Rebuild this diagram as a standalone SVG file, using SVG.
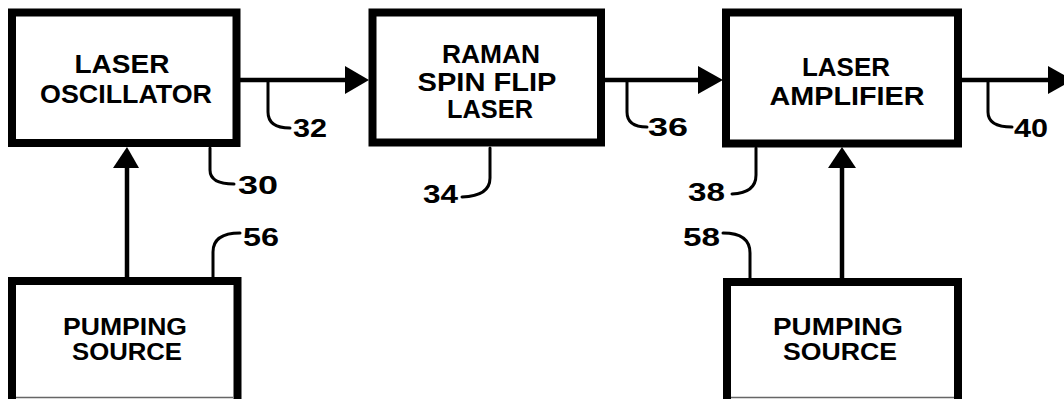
<svg xmlns="http://www.w3.org/2000/svg" width="1064" height="399" viewBox="0 0 1064 399">
<style>
.box{fill:#fff;stroke:#000;stroke-width:8;stroke-linejoin:miter}
.lbl{font-family:"Liberation Sans",Arial,sans-serif;font-weight:bold;font-size:25px;fill:#000;text-anchor:middle}
.num{font-family:"Liberation Sans",Arial,sans-serif;font-weight:bold;font-size:25px;fill:#000}
.wire{stroke:#000;stroke-width:4.5;fill:none}
.lead{stroke:#000;stroke-width:3;fill:none;stroke-linecap:round}
.head{fill:#000}
</style>
<rect width="1064" height="399" fill="#fff"/>
<g id="connectors">
<line class="wire" x1="240" y1="80" x2="350" y2="80"/>
<polygon class="head" points="345,66 369,80 345,94"/>
<line class="wire" x1="605" y1="80" x2="702" y2="80"/>
<polygon class="head" points="698,66 723,80 698,94"/>
<line class="wire" x1="962" y1="80" x2="1052" y2="80"/>
<polygon class="head" points="1048,66 1073,80 1048,94"/>
<line class="wire" x1="127" y1="277" x2="127" y2="165"/>
<polygon class="head" points="113,168 127,147 139,168"/>
<line class="wire" x1="842" y1="278" x2="842" y2="165"/>
<polygon class="head" points="828,168 842,147 856,168"/>
</g>
<g id="leaders">
<path class="lead" d="M268 82 V112 Q268 128 290 128"/>
<path class="lead" d="M210 148 V170 Q210 184 234 184"/>
<path class="lead" d="M627 82 V112 Q627 127 647 127"/>
<path class="lead" d="M490 148 V178 Q490 196 462 197"/>
<path class="lead" d="M988 82 V112 Q988 127 1012 127"/>
<path class="lead" d="M756 148 V175 Q756 193 732 194"/>
<path class="lead" d="M213 277 V252 Q213 233 240 233"/>
<path class="lead" d="M750 278 V253 Q750 233 723 233"/>
<text class="num" x="293" y="137" textLength="34" lengthAdjust="spacingAndGlyphs">32</text>
<text class="num" x="238" y="194" textLength="40" lengthAdjust="spacingAndGlyphs">30</text>
<text class="num" x="648" y="136" textLength="40" lengthAdjust="spacingAndGlyphs">36</text>
<text class="num" x="423" y="203" textLength="35" lengthAdjust="spacingAndGlyphs">34</text>
<text class="num" x="1014" y="137" textLength="34" lengthAdjust="spacingAndGlyphs">40</text>
<text class="num" x="688" y="201" textLength="37" lengthAdjust="spacingAndGlyphs">38</text>
<text class="num" x="243" y="246" textLength="36" lengthAdjust="spacingAndGlyphs">56</text>
<text class="num" x="683" y="246" textLength="37" lengthAdjust="spacingAndGlyphs">58</text>
</g>
<g id="laser-oscillator">
<rect class="box" x="12" y="12.5" width="224.5" height="130.5"/>
<text class="lbl" x="122" y="73" textLength="95" lengthAdjust="spacingAndGlyphs">LASER</text>
<text class="lbl" x="126" y="103" textLength="172" lengthAdjust="spacingAndGlyphs">OSCILLATOR</text>
</g>
<g id="raman-spin-flip-laser">
<rect class="box" x="372.5" y="12.5" width="228.5" height="130"/>
<text class="lbl" x="491" y="63" textLength="98" lengthAdjust="spacingAndGlyphs">RAMAN</text>
<text class="lbl" x="487" y="91" textLength="139" lengthAdjust="spacingAndGlyphs">SPIN FLIP</text>
<text class="lbl" x="490" y="118" textLength="86" lengthAdjust="spacingAndGlyphs">LASER</text>
</g>
<g id="laser-amplifier">
<rect class="box" x="726" y="12.5" width="232" height="131"/>
<text class="lbl" x="846" y="76" textLength="88" lengthAdjust="spacingAndGlyphs">LASER</text>
<text class="lbl" x="847" y="105" textLength="155" lengthAdjust="spacingAndGlyphs">AMPLIFIER</text>
</g>
<g id="pumping-source-1">
<rect class="box" x="12" y="281" width="225.5" height="130"/>
<line x1="16" y1="397.5" x2="233" y2="397.5" stroke="#666" stroke-width="1.5"/>
<text class="lbl" x="125" y="335" textLength="124" lengthAdjust="spacingAndGlyphs" style="font-size:23px">PUMPING</text>
<text class="lbl" x="127" y="360" textLength="110" lengthAdjust="spacingAndGlyphs" style="font-size:23px">SOURCE</text>
</g>
<g id="pumping-source-2">
<rect class="box" x="727" y="282" width="231" height="130"/>
<line x1="731" y1="397.5" x2="954" y2="397.5" stroke="#666" stroke-width="1.5"/>
<text class="lbl" x="838" y="335" textLength="130" lengthAdjust="spacingAndGlyphs" style="font-size:23px">PUMPING</text>
<text class="lbl" x="840" y="360" textLength="114" lengthAdjust="spacingAndGlyphs" style="font-size:23px">SOURCE</text>
</g>
</svg>
